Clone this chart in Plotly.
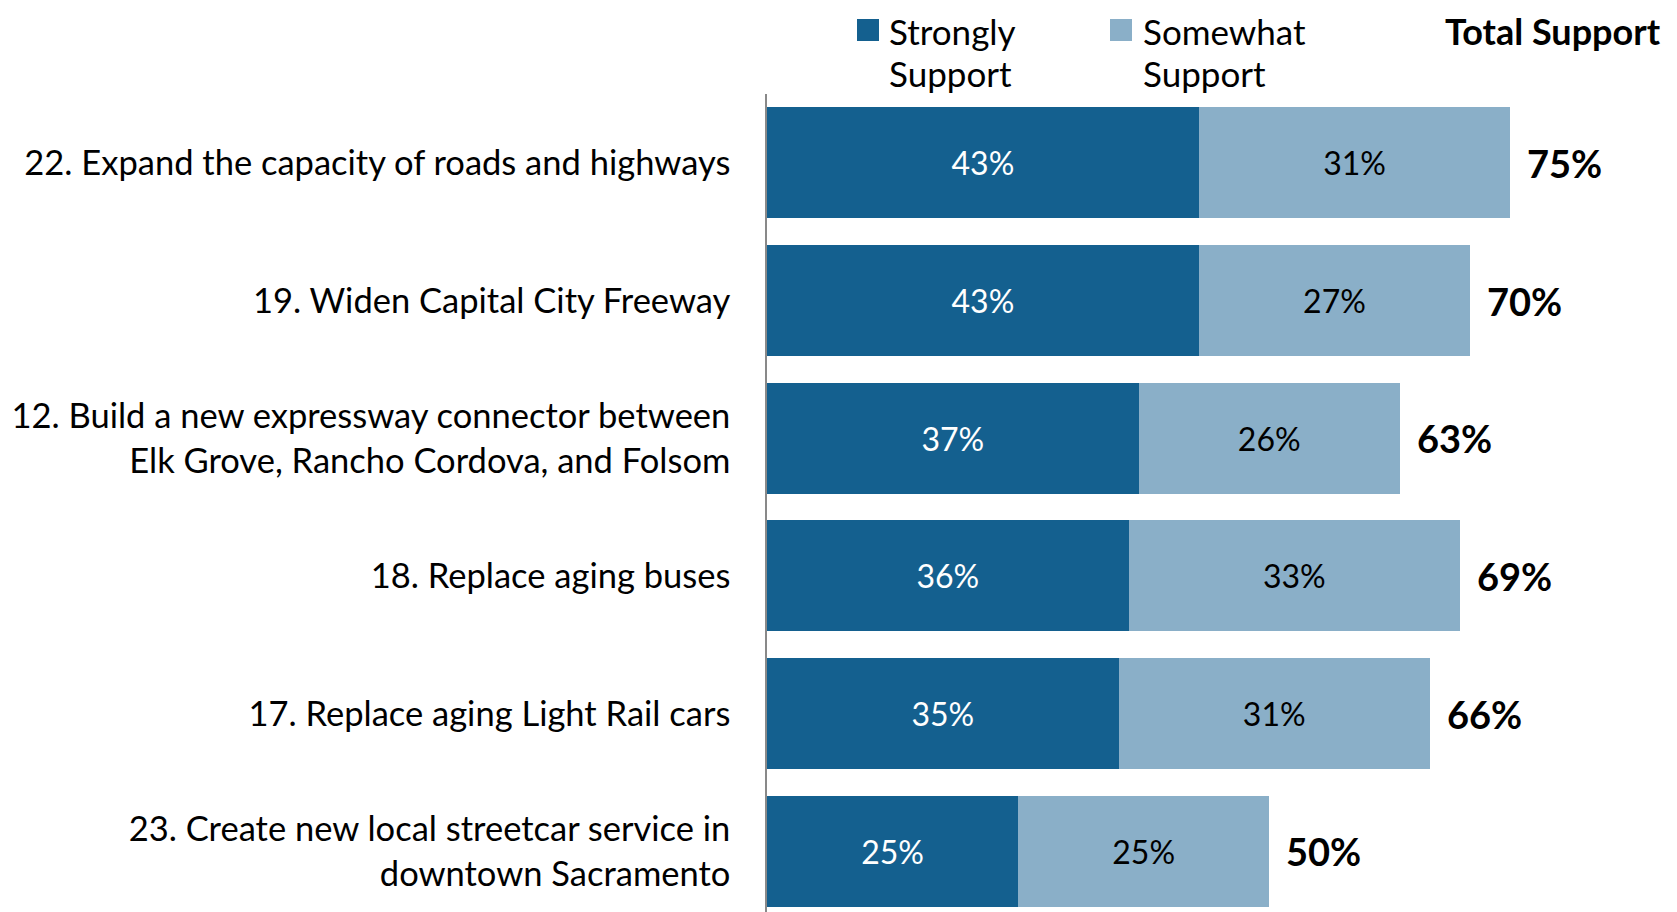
import plotly.graph_objects as go

categories = [
    "22. Expand the capacity of roads and highways",
    "19. Widen Capital City Freeway",
    "12. Build a new expressway connector between<br>Elk Grove, Rancho Cordova, and Folsom",
    "18. Replace aging buses",
    "17. Replace aging Light Rail cars",
    "23. Create new local streetcar service in<br>downtown Sacramento",
]
strongly = [43, 43, 37, 36, 35, 25]
somewhat = [31, 27, 26, 33, 31, 25]
total = [75, 70, 63, 69, 66, 50]

DARK = "#14608f"
LIGHT = "#8aafc8"
FONT = "Lato"

# page body has an 8px margin, so the figure is drawn from (8, 8)
W, H = 1669, 904
ML, MR, MT, MB = 759, 6, 86, 0
PW, PH = W - ML - MR, H - MT - MB

def px(x):
    return (x - ML) / PW

def py(y):
    return 1 - (y - MT) / PH

fig = go.Figure()
fig.add_trace(go.Bar(
    y=categories, x=strongly, orientation="h", name="Strongly Support",
    marker=dict(color=DARK, line=dict(width=0)),
    texttemplate="%{x}%", textposition="inside", insidetextanchor="middle",
    textangle=0, constraintext="none",
    textfont=dict(family=FONT, size=32, color="white"),
    hoverinfo="skip",
))
fig.add_trace(go.Bar(
    y=categories, x=somewhat, orientation="h", name="Somewhat Support",
    marker=dict(color=LIGHT, line=dict(width=0)),
    texttemplate="%{x}%", textposition="inside", insidetextanchor="middle",
    textangle=0, constraintext="none",
    textfont=dict(family=FONT, size=32, color="black"),
    hoverinfo="skip",
))

annotations = []
for c, s, w, t in zip(categories, strongly, somewhat, total):
    annotations.append(dict(
        x=s + w, y=c, xref="x", yref="y", text=f"<b>{t}%</b>",
        showarrow=False, xanchor="left", yanchor="middle", xshift=15,
        font=dict(family=FONT, size=38, color="black"),
    ))

# Legend (custom, to match the two-line layout)
legend_items = [
    (849, 879, "Strongly", "Support", DARK),
    (1102, 1133, "Somewhat", "Support", LIGHT),
]
LINE1 = 23
shapes = []
for sq_x, tx, l1, l2, col in legend_items:
    shapes.append(dict(
        type="rect", xref="paper", yref="paper",
        x0=px(sq_x), x1=px(sq_x + 22), y0=py(LINE1 - 12), y1=py(LINE1 + 10),
        fillcolor=col, line=dict(width=0),
    ))
    annotations.append(dict(
        x=px(tx), y=py(LINE1), xref="paper", yref="paper", text=l1,
        showarrow=False, xanchor="left", yanchor="middle",
        font=dict(family=FONT, size=35, color="black"),
    ))
    annotations.append(dict(
        x=px(tx), y=py(65), xref="paper", yref="paper", text=l2,
        showarrow=False, xanchor="left", yanchor="middle",
        font=dict(family=FONT, size=35, color="black"),
    ))
annotations.append(dict(
    x=px(1655), y=py(LINE1), xref="paper", yref="paper", text="<b>Total Support</b>",
    showarrow=False, xanchor="right", yanchor="middle",
    font=dict(family=FONT, size=36, color="black"),
))

fig.update_layout(
    width=W, height=H,
    margin=dict(l=ML, r=MR, t=MT, b=MB, pad=0),
    barmode="stack", bargap=0.194,
    showlegend=False,
    plot_bgcolor="white", paper_bgcolor="white",
    annotations=annotations, shapes=shapes,
    xaxis=dict(range=[0, 90], visible=False, fixedrange=True),
    yaxis=dict(
        type="category", range=[5.44, -0.5],
        showline=True, linecolor="#898989", linewidth=1.5,
        showgrid=False, zeroline=False, ticks="",
        ticklabelstandoff=28,
        tickfont=dict(family=FONT, size=34.5, color="black"),
        fixedrange=True,
    ),
    font=dict(family=FONT),
)

fig.write_html("out.html")
